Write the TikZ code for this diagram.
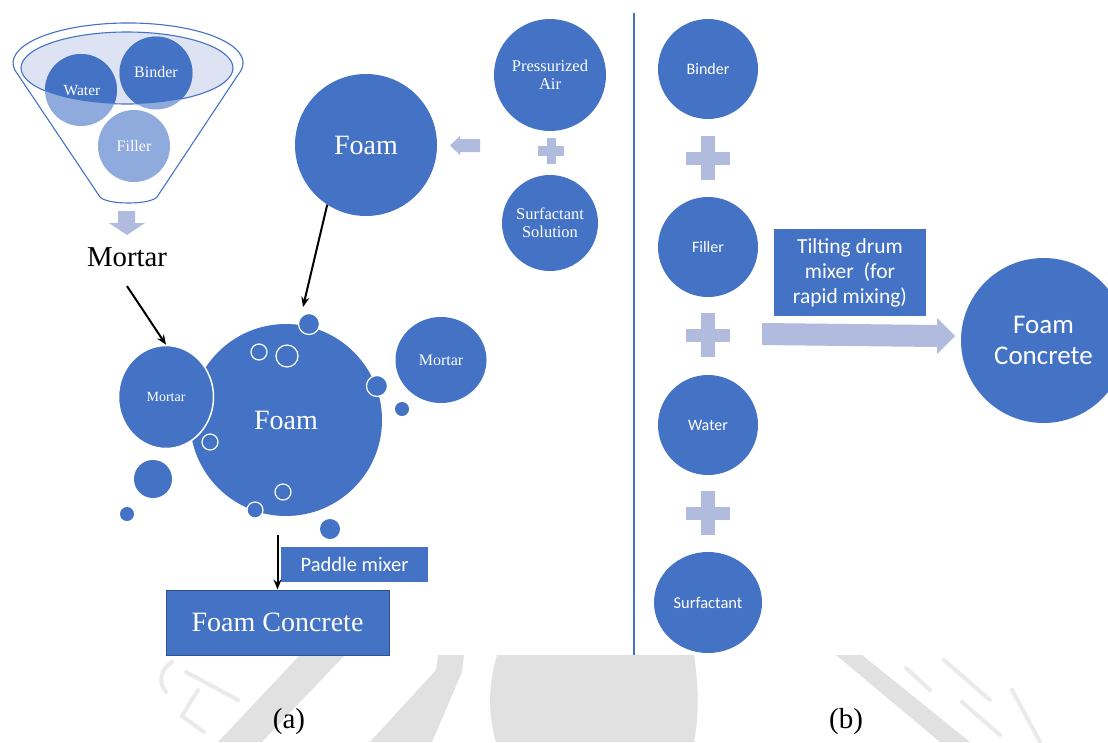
\documentclass[tikz,border=0pt]{standalone}
\usepackage{fontspec}
\setmainfont{Liberation Serif}
\newfontfamily\sansf{Carlito}
\usetikzlibrary{arrows.meta,shapes.geometric}

\definecolor{mblue}{HTML}{4472C4}
\definecolor{lblue}{HTML}{8FAADC}
\definecolor{pale}{HTML}{B0BBDD}
\definecolor{ffill}{HTML}{DDE3F2}
\definecolor{edge}{HTML}{2F528F}
\definecolor{wmark}{HTML}{E1E1E1}
\definecolor{wmarklt}{HTML}{EAEAEA}

\newcommand\fs[2]{\fontsize{#1}{#2}\selectfont}
% plus sign: centre x, centre y, half length, half thickness (bar), half thickness (post)
\newcommand\plusmark[5]{%
  \fill[pale] ({#1-#3},{#2-#4}) rectangle ({#1+#3},{#2+#4});
  \fill[pale] ({#1-#5},{#2-#3}) rectangle ({#1+#5},{#2+#3});}

\tikzset{
  blob/.style={circle, fill=mblue, text=white, inner sep=0pt, minimum size=#1},
  oval/.style 2 args={ellipse, fill=mblue, text=white, inner sep=0pt,
                      minimum width=#1, minimum height=#2},
  bubble/.style={circle, fill=mblue, draw=white, line width=1.2pt, inner sep=0pt, minimum size=#1},
  hollow/.style={circle, draw=white, line width=1.2pt, inner sep=0pt, minimum size=#1},
  dot/.style={circle, fill=mblue, inner sep=0pt, minimum size=#1},
  mixbox/.style={rectangle, fill=mblue, text=white, inner sep=0pt, align=center},
  conn/.style={draw=black, line width=2pt, -{Stealth[length=10pt,width=8pt]}},
  funnel/.style={draw=mblue, line width=1.1pt},
  wm/.style={fill=wmark},
  wmstroke/.style={draw=wmarklt, line width=4pt, line cap=round},
}

\begin{document}
\begin{tikzpicture}[x=1pt,y=-1pt]
\clip (0,0) rectangle (1108,742);
\fill[white] (0,0) rectangle (1108,742);

% faint seal in the background of the caption strip
\begin{scope}
  \clip (0,655) rectangle (1108,742);
  \fill[wm] (300,655) -- (345,655) -- (262,742) -- (218,742) -- cycle;
  \fill[wm] (438,655) -- (464,655) -- (462,672) -- (432,742) -- (370,742)
            -- (436,670) -- cycle;
  \fill[wm] (497,655) -- (694,655) .. controls (699,690) and (699,715) .. (694,742)
            -- (496,742) .. controls (488,715) and (488,685) .. cycle;
  \fill[wm] (836,655) -- (862,655) -- (970,742) -- (940,742) -- cycle;
  \draw[wmstroke] (172,662) .. controls (160,670) and (158,682) .. (166,692);
  \draw[wmstroke] (186,672) -- (238,700);
  \draw[wmstroke] (198,690) -- (182,716) -- (204,732);
  \draw[wmstroke] (906,668) -- (930,690);
  \draw[wmstroke] (944,660) -- (990,700);
  \draw[wmstroke] (962,702) -- (1000,735);
  \draw[wmstroke] (1012,690) -- (1040,742);
\end{scope}

% ---------------- (a) foam concrete by pre-foaming ----------------
% funnel body
\draw[funnel, fill=white] (100,197) -- (17.5,74)
   arc[start angle=164, end angle=376, x radius=115, y radius=40]
   -- (157,197) .. controls (150,205) and (107,205) .. (100,197);
\draw[funnel, fill=ffill] (127,68) ellipse[x radius=106, y radius=36];

% ingredients in the funnel
\node[circle, fill=lblue, inner sep=0pt, minimum size=72pt] (fwater) at (81,90) {};
\node[circle, fill=lblue, inner sep=0pt, minimum size=73pt] (fbinder) at (156,73) {};
\node[circle, fill=lblue, inner sep=0pt, minimum size=72pt] (ffiller) at (134,146) {};
\begin{scope}
  \clip (127,68) ellipse[x radius=106, y radius=36];
  \fill[mblue] (fwater.center) circle[radius=36];
  \fill[mblue] (fbinder.center) circle[radius=36.5];
\end{scope}
\node[text=white, font=\fs{15.5}{18}] (fwaterlbl) at (82,91) {Water};
\node[text=white, font=\fs{16}{18}] (fbinderlbl) at (156,72) {Binder};
\node[text=white, font=\fs{16}{18}] (ffillerlbl) at (134,146) {Filler};

% funnel outlet
\fill[pale] (118,211) -- (135,211) -- (135,223) -- (145,223) -- (127,235)
            -- (109,223) -- (118,223) -- cycle;
\node[font=\fs{28.8}{32}] (mortarlbl) at (127,257) {Mortar};

% foam generation
\node[blob=142pt, font=\fs{28}{32}] (foamtop) at (366,145) {Foam};
\fill[pale] (480,139) -- (460,139) -- (460,136) -- (450,145.5) -- (460,155)
            -- (460,152) -- (480,152) -- cycle;
\node[blob=112pt, font=\fs{16.5}{18}, align=center] (air) at (550,75) {Pressurized\\Air};
\plusmark{551}{151}{13}{5}{4.5}
\node[blob=96pt, font=\fs{16.5}{18}, align=center] (surf) at (550,223) {Surfactant\\Solution};

% mixing foam with mortar
\node[blob=192pt, font=\fs{28}{32}] (foambig) at (286,420) {Foam};
\node[oval={95pt}{103pt}, draw=white, line width=1.5pt, font=\fs{14}{16}] (mortarL) at (166,397) {Mortar};
\node[oval={91pt}{86pt}, font=\fs{16}{18}] (mortarR) at (441,360) {Mortar};

\node[bubble=21pt] (b1) at (309,324) {};
\node[bubble=21pt] (b2) at (377,386) {};
\node[dot=14pt] (b3) at (402,409) {};
\node[hollow=16pt] (h1) at (259,352) {};
\node[hollow=22pt] (h2) at (287,356) {};
\node[hollow=16pt] (h3) at (210,442) {};
\node[hollow=16pt] (h4) at (283,492) {};
\node[bubble=16pt] (b4) at (255,510) {};
\node[dot=38pt] (b5) at (153,479) {};
\node[dot=14pt] (b6) at (127,514) {};
\node[dot=20pt] (b7) at (330,529) {};

\path (mortarlbl.south) ++(0,16) coordinate (mortarout);
\draw[conn] (mortarout) -- (mortarL.north);
\coordinate (foamdrop) at (303,307);
\draw[conn] (foamtop.237) -- (foamdrop);

\node[mixbox, minimum width=147pt, minimum height=35pt, font=\sansf\fs{20.5}{24}] (paddle) at (354.5,564.5) {Paddle mixer};
\node[mixbox, draw=edge, line width=1pt, minimum width=223pt, minimum height=65pt, font=\fs{28}{32}] (fcbox) at (277.5,622.5) {Foam Concrete};
\coordinate (mixstart) at (277.5,535);
\draw[conn] (mixstart) -- (fcbox.north);

\node[font=\fs{29}{33}] (capa) at (289,722) {(a)};

% divider
\draw[mblue, line width=1.5pt] (634,13) -- (634,655);

% ---------------- (b) foam concrete by mixing ----------------
\node[blob=100pt, font=\sansf\fs{16}{18}] (rbinder) at (708,69) {Binder};
\plusmark{708}{158}{22}{6.5}{7}
\node[blob=100pt, font=\sansf\fs{16}{18}] (rfiller) at (708,247) {Filler};
\plusmark{708}{335}{22}{6.5}{7}
\node[blob=100pt, font=\sansf\fs{16}{18}] (rwater) at (708,425) {Water};
\plusmark{708}{513}{22}{6.5}{7}
\node[oval={108pt}{101pt}, font=\sansf\fs{16.5}{18}] (rsurf) at (708,602.5) {Surfactant};

\node[mixbox, minimum width=152pt, minimum height=87pt, font=\sansf\fs{21.5}{25}] (tilt) at (850,272.5)
  {Tilting drum\\mixer\ \ (for\\rapid mixing)};
\fill[pale] (762,323) -- (937,325) -- (937,318) -- (955,336) -- (937,354)
            -- (937,347) -- (762,345) -- cycle;
\node[blob=165pt, font=\sansf\fs{27}{31}, align=center] (fcc) at (1043.5,340.5) {Foam\\Concrete};

\node[font=\fs{29}{33}] (capb) at (846,722) {(b)};
\end{tikzpicture}
\end{document}
